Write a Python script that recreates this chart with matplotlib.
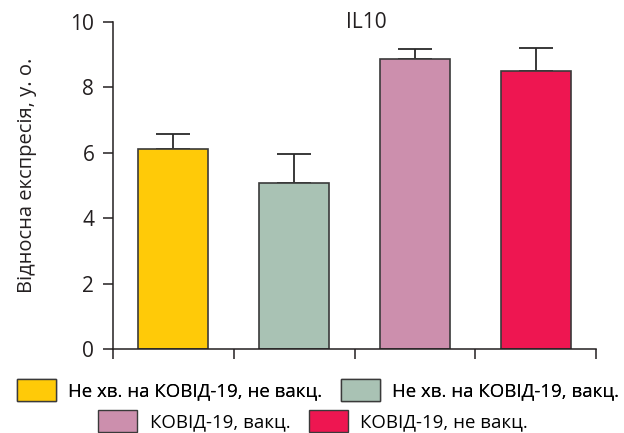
import matplotlib
matplotlib.use("Agg")
import matplotlib.pyplot as plt
from matplotlib.patches import Patch

plt.rcParams['font.family'] = ['Open Sans', 'DejaVu Sans']

categories = ["Не хв. на КОВІД-19, не вакц.", "Не хв. на КОВІД-19, вакц.",
              "КОВІД-19, вакц.", "КОВІД-19, не вакц."]
means = [6.11, 5.09, 8.86, 8.51]
errors = [0.45, 0.88, 0.31, 0.69]
colors = ["#FFCA08", "#A9C2B4", "#CC8FAD", "#EE1651"]
yticks = [0, 2, 4, 6, 8, 10]
title = "IL10"
ylabel = "Відносна експресія, у. о."

fig = plt.figure(figsize=(6.24, 4.33), dpi=100)
ax = fig.add_axes([113/624, 1-349/433, (596-113)/624, (349-22)/433])

x = [i + 0.5 for i in range(len(means))]
ax.bar(x, means, width=0.58, color=colors, edgecolor="#3a3a3a", linewidth=1.2, zorder=2)
ax.errorbar(x, means, yerr=[[0]*len(errors), errors], fmt="none", ecolor="#2a2a2a",
            elinewidth=1.3, capsize=12, capthick=1.3, zorder=1)

ax.set_xlim(0, 4)
ax.set_ylim(0, 10)
ax.set_xticks(range(5))
ax.set_xticklabels([])
ax.set_yticks(yticks)
ax.set_yticklabels([str(t) for t in yticks], fontsize=15, color="#231f20")
ax.tick_params(axis="both", direction="out", length=7.5, width=1.1, color="#231f20", pad=6)
for s in ["top", "right"]:
    ax.spines[s].set_visible(False)
for s in ["left", "bottom"]:
    ax.spines[s].set_linewidth(1.1)
    ax.spines[s].set_color("#231f20")

ax.set_ylabel(ylabel, fontsize=14.5, color="#231f20")
ax.yaxis.set_label_coords(-(113-37)/483, 0.53)
fig.text(366/624, 1-23/433, title, ha="center", va="center", fontsize=15, color="#231f20")

handles = [Patch(facecolor=c, edgecolor="#3a3a3a", linewidth=1.0) for c in colors]
leg_kw = dict(ncol=2, frameon=False, fontsize=13.4, handlelength=2.1, handleheight=1.4,
              handletextpad=0.65, columnspacing=1.0, borderpad=0, loc="center")
leg1 = fig.legend(handles[:2], categories[:2], bbox_to_anchor=(318/624, 1-390/433), **leg_kw)
fig.legend(handles[2:], categories[2:], bbox_to_anchor=(313/624, 1-421/433), **leg_kw)
fig.add_artist(leg1)

fig.savefig("out.png", dpi=100)
